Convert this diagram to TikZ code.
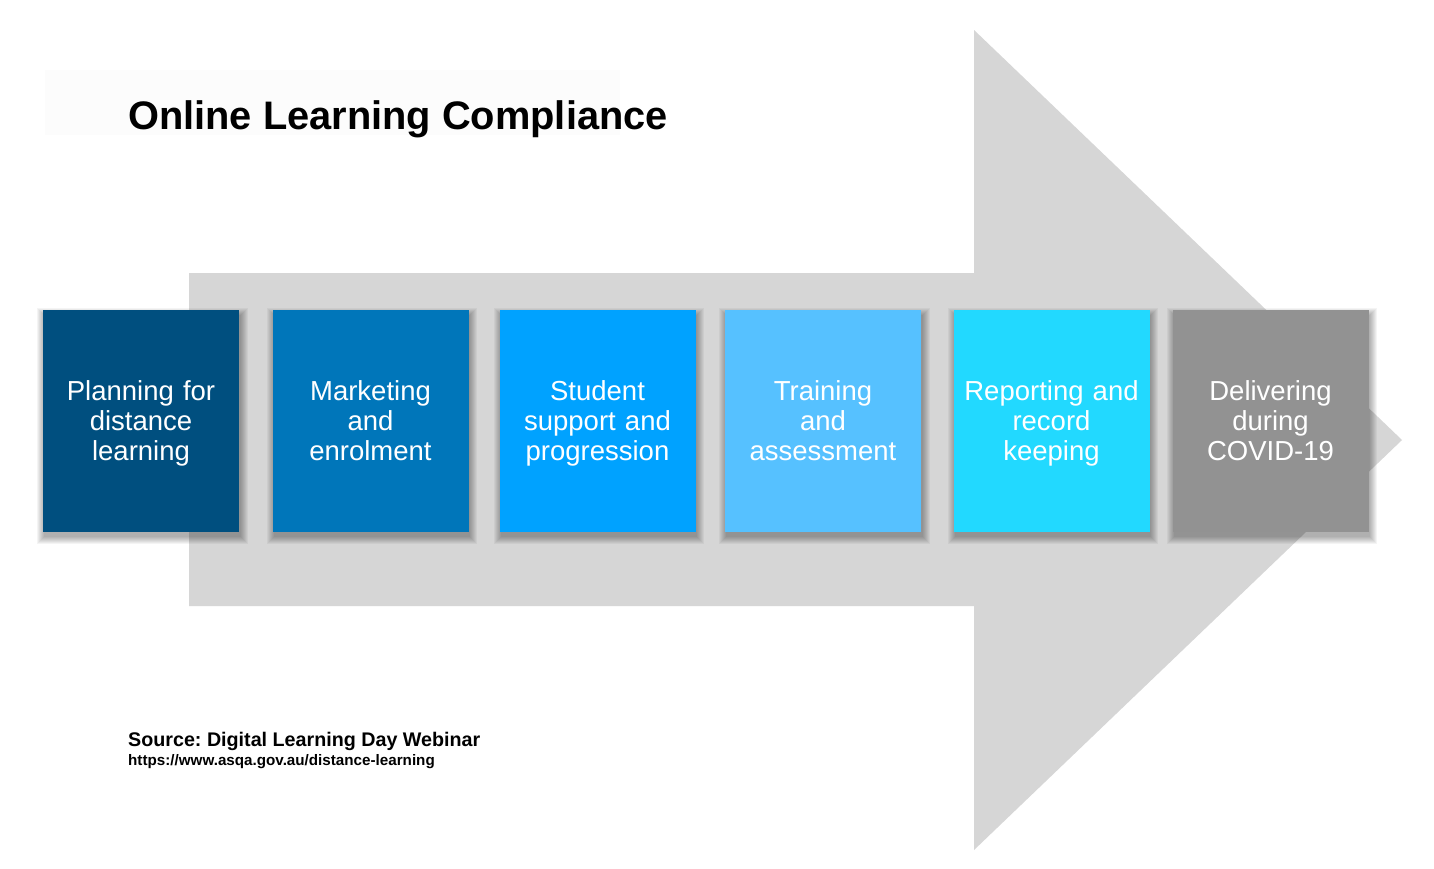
\documentclass[tikz,border=0pt]{standalone}
\usepackage{fontspec}
\setmainfont{Liberation Sans}
\usetikzlibrary{calc,backgrounds}
\frenchspacing
\definecolor{arrowgray}{HTML}{D6D6D6}
\definecolor{cA}{HTML}{004F7F}
\definecolor{cB}{HTML}{0076BA}
\definecolor{cC}{HTML}{00A2FF}
\definecolor{cD}{HTML}{56C1FF}
\definecolor{cE}{HTML}{22D9FF}
\definecolor{cF}{HTML}{929292}
\definecolor{faint}{HTML}{FCFCFC}
\tikzset{
  stepbox/.style={minimum width=196pt, minimum height=222pt, inner sep=0pt,
    text width=186pt, align=center, text=white,
    font=\fontsize{27.5}{30}\selectfont,
    execute at begin node={\rule{0pt}{27pt}}},
  shadowlayer/.style={fill=black, opacity=0.045},
}
\begin{document}
\begin{tikzpicture}[x=1pt,y=-1pt]
\useasboundingbox (0,0) rectangle (1434,868);
\node[stepbox, fill=cA] (b1) at (141,421) {Planning for\strut\\distance\strut\\learning\strut};
\node[stepbox, fill=cB] (b2) at (370.5,421) {Marketing\strut\\and\strut\\enrolment\strut};
\node[stepbox, fill=cC] (b3) at (597.5,421) {Student\strut\\support and\strut\\progression\strut};
\node[stepbox, fill=cD] (b4) at (823,421) {Training\strut\\and\strut\\assessment\strut};
\node[stepbox, fill=cE] (b5) at (1051.5,421) {Reporting and\strut\\record\strut\\keeping\strut};
\node[stepbox, fill=cF] (b6) at (1270.5,421) {Delivering\strut\\during\strut\\COVID-19\strut};
\node[anchor=base west, inner sep=0pt, font=\fontsize{39.8}{44}\selectfont\bfseries] (title) at (128,129) {Online Learning Compliance};
\node[anchor=base west, inner sep=0pt, font=\fontsize{19.7}{24}\selectfont\bfseries] (src) at (128,746) {\frenchspacing Source: Digital Learning Day Webinar};
\node[anchor=base west, inner sep=0pt, font=\fontsize{15.2}{18}\selectfont\bfseries] (url) at (128,765) {https://www.asqa.gov.au/distance-learning};
\begin{pgfonlayer}{background}
\fill[white] (0,0) rectangle (1434,868);
\fill[faint] (45,70) rectangle (620,135);
\fill[arrowgray] (189,273) -- (974,273) -- (974,30) -- (1402,440) -- (974,850) -- (974,606) -- (189,606) -- cycle;
\foreach \b in {b1,b2,b3,b4,b5,b6}{
  \foreach \k in {0,1,...,7}{
    \fill[shadowlayer] ($(\b.north west)+(1.5-\k,5-\k)$) rectangle ($(\b.south east)+(1.5+\k,5+\k)$);
  }
}
\end{pgfonlayer}
\end{tikzpicture}
\end{document}
